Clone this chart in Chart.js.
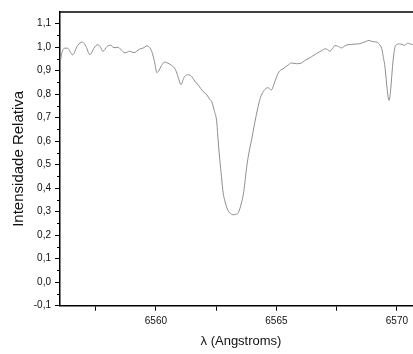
<!DOCTYPE html>
<html>
<head>
<meta charset="utf-8">
<script src="https://cdn.jsdelivr.net/npm/chart.js@4.4.1/dist/chart.umd.min.js"></script>
<style>
  html, body { margin: 0; padding: 0; background: #fff; overflow: hidden; }
  canvas { display: block; }
</style>
</head>
<body>
<!-- the plot runs a little past the right edge of the window -->
<canvas id="c" width="422" height="354"></canvas>
<script>
// Wavelength (Å) of each sample
const wavelength = [
  6556.04, 6556.10, 6556.21, 6556.33, 6556.54, 6556.75, 6556.95, 6557.10, 6557.26, 6557.43,
  6557.58, 6557.68, 6557.80, 6557.97, 6558.11, 6558.26, 6558.43, 6558.55, 6558.72, 6558.90,
  6559.09, 6559.32, 6559.46, 6559.63, 6559.73, 6559.83, 6559.94, 6560.04, 6560.12, 6560.23,
  6560.37, 6560.50, 6560.66, 6560.81, 6560.93, 6561.04, 6561.16, 6561.31, 6561.45, 6561.62,
  6561.78, 6561.95, 6562.11, 6562.24, 6562.31, 6562.42, 6562.52, 6562.58, 6562.65, 6562.72,
  6562.79, 6562.86, 6562.93, 6563.00, 6563.07, 6563.20, 6563.32, 6563.41, 6563.48, 6563.55,
  6563.63, 6563.69, 6563.75, 6563.83, 6563.90, 6563.97, 6564.10, 6564.24, 6564.31, 6564.43,
  6564.56, 6564.64, 6564.79, 6564.89, 6565.01, 6565.14, 6565.26, 6565.39, 6565.51, 6565.62,
  6565.83, 6566.04, 6566.17, 6566.31, 6566.46, 6566.66, 6566.80, 6566.92, 6567.00, 6567.09,
  6567.21, 6567.34, 6567.42, 6567.54, 6567.70, 6567.83, 6567.97, 6568.12, 6568.32, 6568.45,
  6568.59, 6568.70, 6568.84, 6568.95, 6569.07, 6569.20, 6569.28, 6569.37, 6569.43, 6569.49,
  6569.53, 6569.58, 6569.63, 6569.67, 6569.71, 6569.74, 6569.78, 6569.83, 6569.88, 6569.93,
  6570.03, 6570.11, 6570.21, 6570.32, 6570.44, 6570.53, 6570.65
];

// Normalised flux at each wavelength
const intensity = [
  0.943, 0.977, 0.996, 0.996, 0.968, 1.007, 1.022, 1.003, 0.968, 0.996,
  1.011, 1.003, 0.983, 1.003, 1.009, 0.998, 1.000, 0.990, 0.976, 0.983,
  0.977, 0.992, 0.996, 1.006, 1.000, 0.981, 0.939, 0.892, 0.900, 0.922,
  0.937, 0.932, 0.922, 0.905, 0.870, 0.841, 0.870, 0.883, 0.879, 0.855,
  0.836, 0.812, 0.798, 0.777, 0.770, 0.730, 0.685, 0.606, 0.521, 0.449,
  0.380, 0.346, 0.321, 0.304, 0.295, 0.287, 0.289, 0.295, 0.312, 0.338,
  0.376, 0.423, 0.478, 0.534, 0.572, 0.606, 0.679, 0.747, 0.777, 0.807,
  0.824, 0.828, 0.818, 0.840, 0.875, 0.900, 0.907, 0.917, 0.926, 0.933,
  0.930, 0.933, 0.943, 0.951, 0.960, 0.973, 0.981, 0.988, 0.993, 0.992,
  0.983, 0.996, 1.007, 1.005, 0.997, 1.005, 1.011, 1.012, 1.014, 1.015,
  1.020, 1.024, 1.029, 1.025, 1.023, 1.020, 1.011, 0.994, 0.961, 0.926,
  0.890, 0.836, 0.791, 0.774, 0.790, 0.819, 0.870, 0.933, 0.977, 1.004,
  1.013, 1.014, 1.012, 1.008, 1.017, 1.015, 1.011
];

// Axis ranges and tick spacing
const xRange = [6556.02, 6571.04];
const xStep = 2.5;          // labelled every 5 Å
const yRange = [-0.1, 1.15];
const yStep = 0.1;
const yMinorStep = 0.05;

const FONT = '"Liberation Sans", Arial, Helvetica, sans-serif';
const points = wavelength.map((w, i) => ({ x: w, y: intensity[i] }));

// Top frame line plus short minor ticks on the intensity axis
const framePlugin = {
  id: 'frame',
  afterDraw(chart) {
    const { ctx, chartArea } = chart;
    const y = chart.scales.y;
    ctx.save();
    ctx.strokeStyle = '#000';
    ctx.lineWidth = 1.5;
    ctx.beginPath();
    ctx.moveTo(chartArea.left, chartArea.top);
    ctx.lineTo(chartArea.right, chartArea.top);
    ctx.stroke();
    ctx.lineWidth = 1;
    for (let v = y.min + yMinorStep; v < y.max; v += yStep) {
      const py = Math.round(y.getPixelForValue(v)) + 0.5;
      ctx.beginPath();
      ctx.moveTo(chartArea.left - 3, py);
      ctx.lineTo(chartArea.left, py);
      ctx.stroke();
    }
    ctx.restore();
  }
};

new Chart(document.getElementById('c'), {
  type: 'line',
  data: {
    datasets: [{
      data: points,
      borderColor: '#8e8e8e',
      borderWidth: 1,
      pointRadius: 0,
      cubicInterpolationMode: 'monotone',
      fill: false
    }]
  },
  options: {
    responsive: false,
    animation: false,
    devicePixelRatio: 1,
    layout: { padding: { top: 12, right: 0, left: 0, bottom: 0 } },
    plugins: { legend: { display: false }, tooltip: { enabled: false } },
    scales: {
      x: {
        type: 'linear',
        min: xRange[0],
        max: xRange[1],
        afterFit: s => { s.height = 48.3; s.paddingLeft = 0; s.paddingRight = 0; },
        border: { display: true, color: '#000', width: 1.5 },
        grid: { display: true, drawOnChartArea: false, drawTicks: true, tickLength: 5, color: '#000', lineWidth: 1 },
        ticks: {
          stepSize: xStep,
          includeBounds: false,
          autoSkip: false,
          maxRotation: 0,
          padding: 5,
          color: '#111',
          font: { family: FONT, size: 10 },
          callback: v => (Math.abs(v % 5) < 1e-6 ? String(Math.round(v)) : '')
        },
        title: {
          display: true,
          text: 'λ (Angstroms)',
          color: '#111',
          font: { family: FONT, size: 13 },
          padding: { top: 0, bottom: 5 }
        }
      },
      y: {
        type: 'linear',
        min: yRange[0],
        max: yRange[1],
        afterFit: s => { s.width = 60; },
        border: { display: true, color: '#000', width: 1.5 },
        grid: { display: true, drawOnChartArea: false, drawTicks: true, tickLength: 5, color: '#000', lineWidth: 1 },
        ticks: {
          stepSize: yStep,
          includeBounds: false,
          autoSkip: false,
          padding: 4,
          color: '#111',
          font: { family: FONT, size: 10 },
          callback: v => v.toFixed(1).replace('.', ',')
        },
        title: {
          display: true,
          text: 'Intensidade Relativa',
          color: '#111',
          font: { family: FONT, size: 15 },
          padding: { top: 10, bottom: 0 }
        }
      }
    }
  },
  plugins: [framePlugin]
});
</script>
</body>
</html>
